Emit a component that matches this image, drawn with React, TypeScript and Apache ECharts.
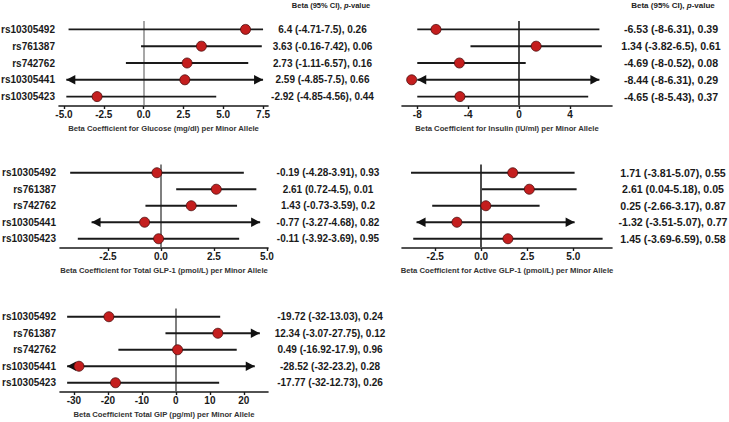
import React, { useEffect, useRef } from "react";
import * as echarts from "echarts";

const snps = ["rs10305492", "rs761387", "rs742762", "rs10305441", "rs10305423"];

const glucoseBeta = [6.4, 3.63, 2.73, 2.59, -2.92];
const glucoseLo = [-4.71, -0.16, -1.11, -4.85, -4.85];
const glucoseHi = [7.5, 7.42, 6.57, 7.5, 4.56];
const glucoseP = ["0.26", "0.06", "0.16", "0.66", "0.44"];

const insulinBeta = [-6.53, 1.34, -4.69, -8.44, -4.65];
const insulinLo = [-8, -3.82, -8, -8, -8];
const insulinHi = [6.31, 6.5, 0.52, 6.31, 5.43];
const insulinP = ["0.39", "0.61", "0.08", "0.29", "0.37"];

const totalGlpBeta = [-0.19, 2.61, 1.43, -0.77, -0.11];
const totalGlpLo = [-4.28, 0.72, -0.73, -3.27, -3.92];
const totalGlpHi = [3.91, 4.5, 3.59, 4.68, 3.69];
const totalGlpP = ["0.93", "0.01", "0.2", "0.82", "0.95"];

const activeGlpBeta = [1.71, 2.61, 0.25, -1.32, 1.45];
const activeGlpLo = [-3.81, 0.04, -2.66, -3.51, -3.69];
const activeGlpHi = [5.07, 5.18, 3.17, 5.07, 6.59];
const activeGlpP = ["0.55", "0.05", "0.87", "0.77", "0.58"];

const gipBeta = [-19.72, 12.34, 0.49, -28.52, -17.77];
const gipLo = [-32, -3.07, -16.92, -32, -32];
const gipHi = [13.03, 27.75, 17.9, 23.2, 12.73];
const gipP = ["0.24", "0.12", "0.96", "0.28", "0.26"];

// arrow flags per row: [left, right]
const glucoseArrows = [[0, 0], [0, 0], [0, 0], [1, 1], [0, 0]];
const insulinArrows = [[0, 0], [0, 0], [0, 0], [1, 1], [0, 0]];
const totalGlpArrows = [[0, 0], [0, 0], [0, 0], [1, 1], [0, 0]];
const activeGlpArrows = [[0, 0], [0, 0], [0, 0], [1, 1], [0, 0]];
const gipArrows = [[0, 0], [0, 1], [0, 0], [1, 1], [0, 0]];

const glucoseTicks = [-5, -2.5, 0, 2.5, 5, 7.5];
const insulinTicks = [-8, -4, 0, 4];
const totalGlpTicks = [-2.5, 0, 2.5, 5];
const activeGlpTicks = [-2.5, 0, 2.5, 5];
const gipTicks = [-30, -20, -10, 0, 10, 20];

const FONT = "'Liberation Sans', Arial, Helvetica, sans-serif";

type Panel = {
  beta: number[];
  lo: number[];
  hi: number[];
  p: string[];
  arrows: number[][];
  ticks: number[];
  decimals: number;
  min: number;
  max: number;
  clipMin: number;
  clipMax: number;
  title: string;
  grid: { left: number; top: number; width: number; height: number };
  showNames: boolean;
  textMargin: number;
  textSize: number;
  zeroColor: string;
};

const panels: Panel[] = [
  {
    beta: glucoseBeta, lo: glucoseLo, hi: glucoseHi, p: glucoseP, arrows: glucoseArrows,
    ticks: glucoseTicks, decimals: 1, min: -5.31, max: 7.81, clipMin: -10, clipMax: 10,
    title: "Beta Coefficient for Glucose (mg/dl) per Minor Allele",
    grid: { left: 59, top: 21, width: 209, height: 84 }, showNames: true, textMargin: 54.5, textSize: 10, zeroColor: "#8a8a8a",
  },
  {
    beta: insulinBeta, lo: insulinLo, hi: insulinHi, p: insulinP, arrows: insulinArrows,
    ticks: insulinTicks, decimals: 0, min: -9.2, max: 7.3, clipMin: -20, clipMax: 20,
    title: "Beta Coefficient for Insulin (IU/ml) per Minor Allele",
    grid: { left: 402, top: 21, width: 210, height: 84 }, showNames: false, textMargin: 59, textSize: 10.6, zeroColor: "#111111",
  },
  {
    beta: totalGlpBeta, lo: totalGlpLo, hi: totalGlpHi, p: totalGlpP, arrows: totalGlpArrows,
    ticks: totalGlpTicks, decimals: 1, min: -4.76, max: 5.05, clipMin: -10, clipMax: 10,
    title: "Beta Coefficient for Total GLP-1 (pmol/L) per Minor Allele",
    grid: { left: 60, top: 164.5, width: 208, height: 82.5 }, showNames: true, textMargin: 60, textSize: 10, zeroColor: "#555555",
  },
  {
    beta: activeGlpBeta, lo: activeGlpLo, hi: activeGlpHi, p: activeGlpP, arrows: activeGlpArrows,
    ticks: activeGlpTicks, decimals: 1, min: -4.3, max: 7.1, clipMin: -10, clipMax: 10,
    title: "Beta Coefficient for Active GLP-1 (pmol/L) per Minor Allele",
    grid: { left: 402, top: 164.5, width: 210, height: 82.5 }, showNames: false, textMargin: 61, textSize: 10.6, zeroColor: "#111111",
  },
  {
    beta: gipBeta, lo: gipLo, hi: gipHi, p: gipP, arrows: gipArrows,
    ticks: gipTicks, decimals: 0, min: -34.1, max: 27.1, clipMin: -40, clipMax: 24.7,
    title: "Beta Coefficient Total GIP (pg/ml) per Minor Allele",
    grid: { left: 60, top: 308.5, width: 208, height: 82.5 }, showNames: true, textMargin: 62, textSize: 10, zeroColor: "#555555",
  },
];

function buildOption() {
  const grid: any[] = [];
  const xAxis: any[] = [];
  const yAxis: any[] = [];
  const series: any[] = [];

  panels.forEach((pn, gi) => {
    grid.push({ ...pn.grid, containLabel: false, outerBoundsMode: "none" });
    xAxis.push({
      type: "value",
      gridIndex: gi,
      min: pn.min,
      max: pn.max,
      offset: 1,
      splitLine: { show: false },
      axisLine: { show: true, onZero: false, lineStyle: { color: "#1a1a1a", width: 1.6 } },
      axisTick: { show: true, length: 3, customValues: pn.ticks, lineStyle: { color: "#1a1a1a", width: 1.4 } },
      axisLabel: {
        show: true,
        customValues: pn.ticks,
        margin: 3,
        fontFamily: FONT,
        fontWeight: "bold",
        fontSize: 10,
        color: "#1a1a1a",
        formatter: (v: number) => Number(v).toFixed(pn.decimals),
      },
      name: pn.title,
      nameLocation: "middle",
      nameGap: 18,
      nameTextStyle: { fontFamily: FONT, fontWeight: "bold", fontSize: 7.7, color: "#333333" },
    });
    // names axis (left)
    yAxis.push({
      type: "category",
      gridIndex: gi,
      data: snps,
      inverse: true,
      position: "left",
      axisLine: { show: false },
      axisTick: { show: false },
      splitLine: { show: false },
      axisLabel: {
        show: pn.showNames,
        margin: 4,
        fontFamily: FONT,
        fontWeight: "bold",
        fontSize: 10,
        color: "#1a1a1a",
      },
    });
    // estimate text (right)
    yAxis.push({
      type: "category",
      gridIndex: gi,
      data: snps,
      inverse: true,
      position: "right",
      axisLine: { show: false },
      axisTick: { show: false },
      splitLine: { show: false },
      axisLabel: {
        show: true,
        margin: pn.textMargin,
        align: "center",
        fontFamily: FONT,
        fontWeight: "bold",
        fontSize: pn.textSize,
        color: "#1a1a1a",
        formatter: (_v: string, i: number) =>
          `${pn.beta[i]} (${pn.lo[i]}-${pn.hi[i]}), ${pn.p[i]}`,
      },
    });

    const yIdx = gi * 2;
    const ciData = snps.map((_, i) => [
      Math.max(pn.lo[i], pn.clipMin),
      i,
      Math.min(pn.hi[i], pn.clipMax),
      pn.arrows[i][0],
      pn.arrows[i][1],
    ]);

    series.push({
      type: "custom",
      xAxisIndex: gi,
      yAxisIndex: yIdx,
      data: ciData,
      z: 2,
      silent: true,
      renderItem: (_params: any, api: any) => {
        const lo = api.value(0);
        const yi = api.value(1);
        const hi = api.value(2);
        const al = api.value(3);
        const ar = api.value(4);
        const p1 = api.coord([lo, yi]);
        const p2 = api.coord([hi, yi]);
        const children: any[] = [
          {
            type: "line",
            shape: { x1: p1[0], y1: p1[1], x2: p2[0], y2: p2[1] },
            style: { stroke: "#1a1a1a", lineWidth: 1.9 },
          },
        ];
        const L = 9;
        const H = 4.7;
        if (al) {
          children.push({
            type: "polygon",
            shape: { points: [[p1[0], p1[1]], [p1[0] + L, p1[1] - H], [p1[0] + L, p1[1] + H]] },
            style: { fill: "#111" },
          });
        }
        if (ar) {
          children.push({
            type: "polygon",
            shape: { points: [[p2[0], p2[1]], [p2[0] - L, p2[1] - H], [p2[0] - L, p2[1] + H]] },
            style: { fill: "#111" },
          });
        }
        return { type: "group", children };
      },
    });

    series.push({
      type: "scatter",
      xAxisIndex: gi,
      yAxisIndex: yIdx,
      data: snps.map((_, i) => [pn.beta[i], i]),
      symbol: "circle",
      symbolSize: 10,
      z: 5,
      silent: true,
      itemStyle: { color: "#c41e1e", borderColor: "#4a0a0a", borderWidth: 0.8, opacity: 1 },
      markLine: {
        silent: true,
        symbol: "none",
        label: { show: false },
        lineStyle: { color: pn.zeroColor, width: 1.5, type: "solid" },
        data: [{ xAxis: 0 }],
        z: 1,
      },
    });
  });

  const header = (cx: number, size: number) => ({
    type: "text",
    x: cx,
    y: 5,
    style: {
      text: "Beta (95% CI), {i|p}-value",
      fontFamily: FONT,
      fontWeight: "bold",
      fontSize: size,
      fill: "#222",
      align: "center",
      verticalAlign: "middle",
      rich: { i: { fontStyle: "italic", fontFamily: FONT, fontWeight: "bold", fontSize: size, fill: "#222" } },
    },
  });

  return {
    animation: false,
    backgroundColor: "#ffffff",
    grid,
    xAxis,
    yAxis,
    series,
    graphic: [header(331, 7.5), header(673, 8)],
  };
}

export default function App() {
  const ref = useRef<HTMLDivElement>(null);
  useEffect(() => {
    if (!ref.current) return;
    const chart = echarts.init(ref.current, undefined, { renderer: "svg" });
    chart.setOption(buildOption() as any);
    return () => chart.dispose();
  }, []);
  return (
    <div
      ref={ref}
      style={{ position: "fixed", left: 0, top: 0, width: 729, height: 422, background: "#fff" }}
    />
  );
}
